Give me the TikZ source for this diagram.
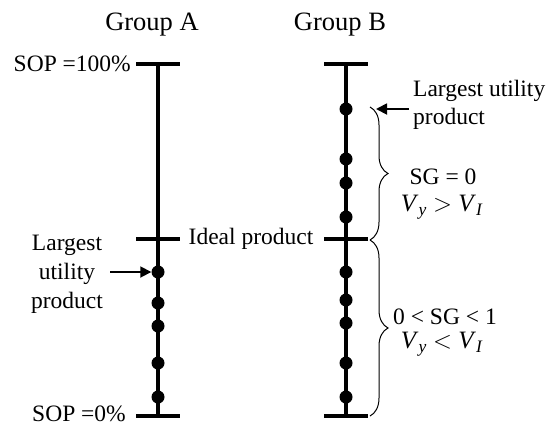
\documentclass[tikz,border=0pt]{standalone}
\usepackage{fontspec}
\setmainfont{Liberation Serif}
\usetikzlibrary{arrows.meta,decorations.pathreplacing}
\tikzset{
  axis/.style={line width=3.2pt},
  tick/.style={line width=3.2pt},
  dot/.style={circle,fill=black,inner sep=0pt,minimum size=13pt},
  lbl/.style={inner sep=0pt,font=\fontsize{23.5}{27}\selectfont},
  ttl/.style={inner sep=0pt,font=\fontsize{26.5}{30}\selectfont},
  arr/.style={line width=1.8pt,-{Triangle[length=11pt,width=11pt]}},
  brc/.style={line width=1pt,decorate,decoration={brace,amplitude=18pt}}
}
\begin{document}
\begin{tikzpicture}[x=1pt,y=-1pt]
\useasboundingbox (0,0) rectangle (549,426);
% titles
\node[ttl] (ga) at (152,25) {Group A};
\node[ttl] (gb) at (340,25) {Group B};
% Group A axis
\coordinate (at) at (158,64);
\coordinate (ab) at (158,416);
\draw[axis] (at) -- (ab);
\draw[tick] (136,64) -- (180,64);
\draw[tick] (136,239) -- (180,239);
\draw[tick] (136,416) -- (180,416);
\foreach \y [count=\i] in {272,303,326,363,397} \node[dot] (a\i) at (158,\y) {};
% Group B axis
\coordinate (bt) at (346,64);
\coordinate (bb) at (346,416);
\draw[axis] (bt) -- (bb);
\draw[tick] (324,64) -- (368,64);
\draw[tick] (324,239) -- (368,239);
\draw[tick] (324,416) -- (368,416);
\foreach \y [count=\i] in {109,159,183,217,272,300,323,363,397} \node[dot] (b\i) at (346,\y) {};
% labels
\node[lbl,anchor=east] (sop1) at (131,64) {SOP =100\%};
\node[lbl,anchor=east] (sop0) at (126,414) {SOP =0\%};
\node[lbl] (ideal) at (251,239) {Ideal product};
\node[lbl,align=center] (lua) at (67,274) {Largest\\[2pt]utility\\[2pt]product};
\node[lbl,align=left,anchor=north west] (lub) at (413,80) {Largest utility\\[1pt]product};
\coordinate (aarrs) at (110,272);
\draw[arr] (aarrs) -- (a1.west);
\coordinate (barrs) at (409,109);
\coordinate (barre) at (376,109);
\draw[arr] (barrs) -- (barre);
% braces
\draw[brc] (370,107) -- (370,240);
\draw[brc] (370,240) -- (370,416);
\node[lbl] (sg0) at (443,177) {SG = 0};
\node[lbl] (v1) at (442,207) {\fontsize{25}{28}\selectfont\textit{V}\textsubscript{\textit{y}} $>$ \textit{V}\textsubscript{\textit{I}}};
\node[lbl] (sg1) at (445,317) {0 < SG < 1};
\node[lbl] (v2) at (442,344) {\fontsize{25}{28}\selectfont\textit{V}\textsubscript{\textit{y}} $<$ \textit{V}\textsubscript{\textit{I}}};
\end{tikzpicture}
\end{document}
